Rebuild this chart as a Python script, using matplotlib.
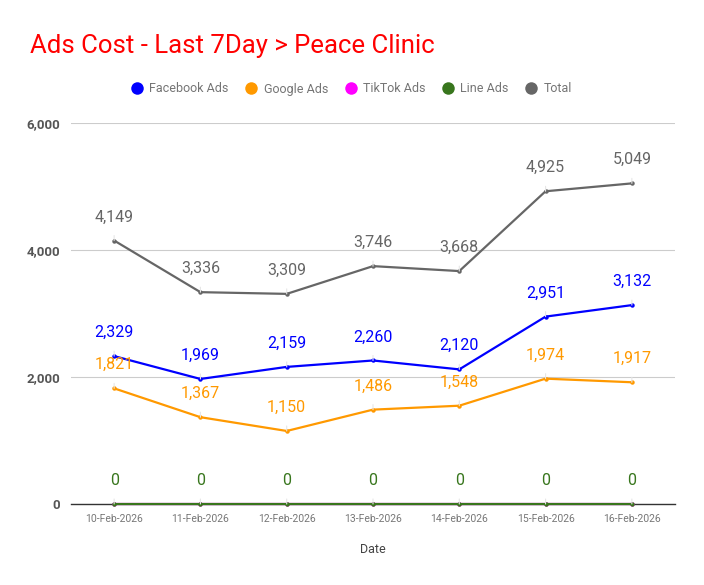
import matplotlib
matplotlib.use("Agg")
import matplotlib.pyplot as plt
from matplotlib.ticker import FuncFormatter

plt.rcParams['font.family'] = ['Roboto', 'DejaVu Sans']

dates = ["10-Feb-2026", "11-Feb-2026", "12-Feb-2026", "13-Feb-2026",
         "14-Feb-2026", "15-Feb-2026", "16-Feb-2026"]
facebook = [2329, 1969, 2159, 2260, 2120, 2951, 3132]
google = [1821, 1367, 1150, 1486, 1548, 1974, 1917]
tiktok = [0, 0, 0, 0, 0, 0, 0]
line_ads = [0, 0, 0, 0, 0, 0, 0]
total = [4149, 3336, 3309, 3746, 3668, 4925, 5049]

series = [
    ("Facebook Ads", facebook, "#0000ff", True),
    ("Google Ads", google, "#ff9900", True),
    ("TikTok Ads", tiktok, "#ff00ff", False),
    ("Line Ads", line_ads, "#38761d", True),
    ("Total", total, "#666666", True),
]

fig = plt.figure(figsize=(7.04, 5.85), dpi=100)
ax = fig.add_axes([71 / 704, 81 / 585, 604 / 704, 381 / 585])

x = list(range(len(dates)))
for name, vals, color, show_labels in series:
    ax.plot(x, vals, color=color, lw=1.6, marker="o", markersize=3.2,
            markeredgewidth=0, label=name, zorder=3, clip_on=False)
    if show_labels:
        for xi, v in zip(x, vals):
            ax.annotate(f"{v:,}", xy=(xi, v), xytext=(0, 17), textcoords="offset points",
                        ha="center", va="center", fontsize=11.5, color=color,
                        arrowprops=dict(arrowstyle="-", color="#e6e6e6", lw=0.8,
                                        shrinkA=6, shrinkB=0), zorder=4)

ax.set_xlim(-0.5, 6.5)
ax.set_ylim(0, 6000)
ax.set_yticks([0, 2000, 4000, 6000])
ax.yaxis.set_major_formatter(FuncFormatter(lambda v, p: f"{int(v):,}"))
ax.set_xticks(x)
ax.set_xticklabels(dates)
ax.grid(axis="y", color="#cccccc", lw=0.8)
ax.set_axisbelow(True)
for s in ["top", "right", "left"]:
    ax.spines[s].set_visible(False)
ax.spines["bottom"].set_color("#333333")
ax.spines["bottom"].set_linewidth(1.0)
ax.tick_params(axis="y", length=0, pad=8, labelsize=9.5, labelcolor="#555555")
for t in ax.get_yticklabels():
    t.set_fontweight("bold")
ax.tick_params(axis="x", length=0, pad=7, labelsize=7.5, labelcolor="#777777")
ax.set_xlabel("Date", fontsize=9, color="#444444", labelpad=14)

fig.text(30 / 704, 1 - 46 / 585, "Ads Cost - Last 7Day > Peace Clinic",
         fontsize=18.5, color="#ff0000", ha="left", va="center")

leg = fig.legend(loc="center", bbox_to_anchor=(0.5, 1 - 89 / 585), ncol=5,
                 frameon=False, fontsize=9, handlelength=0.8, handletextpad=0.6,
                 columnspacing=1.4, labelcolor="#757575")
for h in leg.legend_handles:
    h.set_linestyle("")
    h.set_markersize(9)

fig.savefig("out.png", dpi=100)
